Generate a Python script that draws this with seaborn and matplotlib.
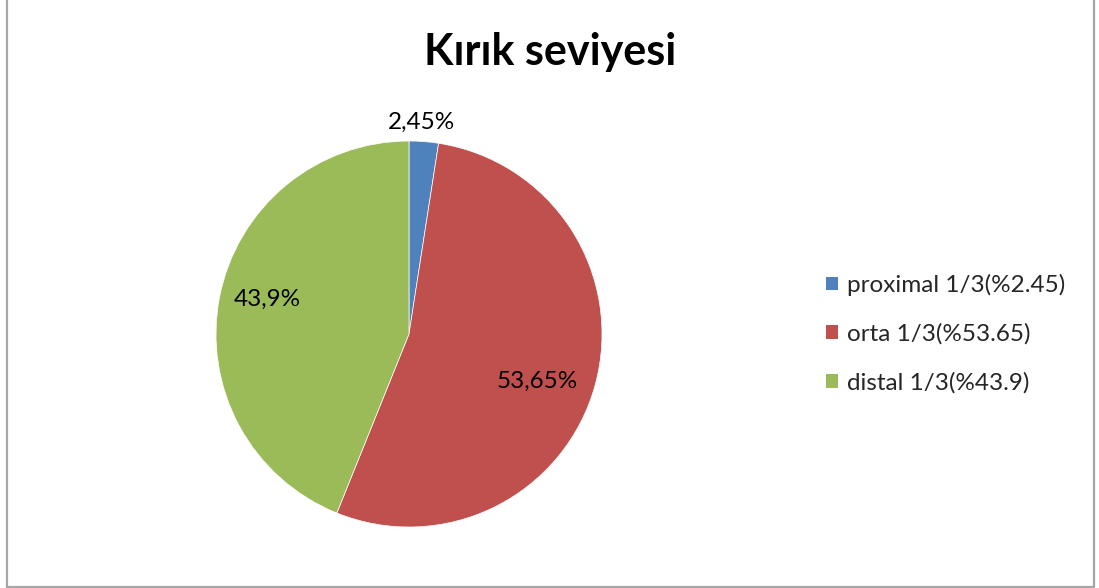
import matplotlib
matplotlib.use("Agg")
import matplotlib.pyplot as plt
from matplotlib.patches import Patch
from matplotlib.lines import Line2D
import numpy as np
import seaborn as sns

# Fracture level data
categories = ["proximal 1/3(%2.45)", "orta 1/3(%53.65)", "distal 1/3(%43.9)"]
values = [2.45, 53.65, 43.9]
value_labels = ["2,45%", "53,65%", "43,9%"]
colors = ["#4F81BD", "#C0504D", "#9BBB59"]
title = "Kırık seviyesi"

sns.set_theme(style="white")
plt.rcParams["font.family"] = ["Lato", "DejaVu Sans"]

W, H = 1099, 588
fig = plt.figure(figsize=(W / 100, H / 100), dpi=100)
fig.patch.set_facecolor("white")

# pie axes: centre (409, 334) px, radius 193 px
cx, cy, r = 409, 334, 193
ax = fig.add_axes([(cx - r) / W, (H - cy - r) / H, 2 * r / W, 2 * r / H])
wedges, _ = ax.pie(values, colors=colors, startangle=90, counterclock=False,
                   radius=1.0, wedgeprops=dict(linewidth=0.5, edgecolor="white"))
ax.set_xlim(-1, 1)
ax.set_ylim(-1, 1)
ax.set_aspect("equal")
ax.axis("off")

# value labels: radial distance and small angular nudge from each wedge's mid-angle
dists = [1.10, 0.71, 0.757]
nudges = [0.9, -4.6, -2.9]
for w, lab, d, da in zip(wedges, value_labels, dists, nudges):
    ang = np.deg2rad((w.theta1 + w.theta2) / 2 + da)
    ax.text(d * np.cos(ang), d * np.sin(ang), lab, ha="center", va="center",
            fontsize=17.5, color="black")

fig.text(550 / W, 1 - 52 / H, title, ha="center", va="center",
         fontsize=31, fontweight="bold", color="black")

handles = [Patch(facecolor=c, edgecolor="none") for c in colors]
fig.legend(handles, categories, loc="center left",
           bbox_to_anchor=(826 / W, 1 - 334 / H), frameon=False,
           fontsize=17.5, handlelength=0.5, handleheight=0.5,
           handletextpad=0.35, labelspacing=1.13, borderaxespad=0,
           borderpad=0)

# outer chart border (left, right, bottom)
gray = "#A6A6A6"
for xs, ys in [([6.5, 6.5], [-5, 590]), ([1093.5, 1093.5], [-5, 590]),
               ([6.5, 1093.5], [586.5, 586.5])]:
    fig.add_artist(Line2D([x / W for x in xs], [1 - y / H for y in ys],
                          color=gray, linewidth=1.6, transform=fig.transFigure))

fig.savefig("out.png", dpi=100, facecolor="white")
